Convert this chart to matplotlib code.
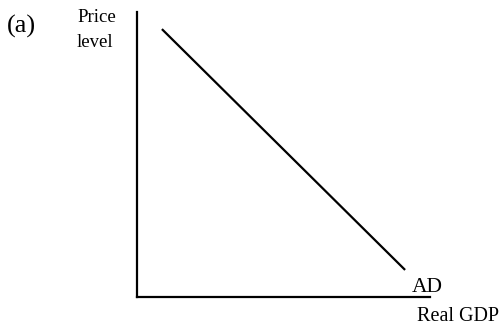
"""
Aggregate demand curve, panel (a): price level against real GDP.
"""

import matplotlib.pyplot as plt

# AD curve end points (real GDP, price level), arbitrary units
ad_gdp = [0.85, 9.15]
ad_price = [9.4, 0.95]

W, H = 502, 326


def fx(px):
    return px / W


def fy(py):
    return 1 - py / H


plt.rcParams["font.family"] = ["Liberation Serif", "DejaVu Serif"]

fig = plt.figure(figsize=(W / 100, H / 100), dpi=100)
ax = fig.add_axes([fx(137), fy(297), fx(430) - fx(137), fy(12) - fy(297)])
ax.set_xlim(0, 10)
ax.set_ylim(0, 10)

# plain L-shaped axes, no ticks
for side in ["top", "right"]:
    ax.spines[side].set_visible(False)
for side in ["left", "bottom"]:
    ax.spines[side].set_linewidth(1.6)
ax.set_xticks([])
ax.set_yticks([])

ax.plot(ad_gdp, ad_price, color="black", linewidth=1.6, solid_capstyle="butt")

fig.text(fx(7), fy(33), "(a)", fontsize=19, ha="left", va="baseline")
fig.text(fx(77), fy(22), "Price", fontsize=13.5, ha="left", va="baseline")
fig.text(fx(77), fy(47), "level", fontsize=13.5, ha="left", va="baseline")
fig.text(fx(412), fy(292), "AD", fontsize=15.5, ha="left", va="baseline")
fig.text(fx(417), fy(321), "Real GDP", fontsize=14.5, ha="left", va="baseline")

fig.savefig("out.png", dpi=100)
